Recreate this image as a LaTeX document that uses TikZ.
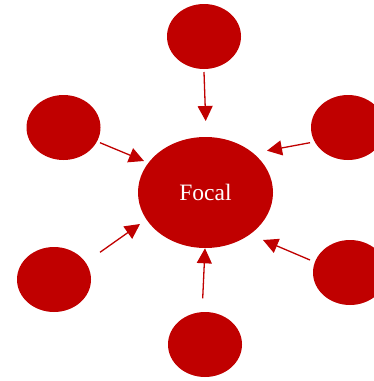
\documentclass[tikz,border=0pt]{standalone}
\usepackage{fontspec}
\setmainfont{Liberation Serif}
\usetikzlibrary{shapes.geometric,arrows.meta}
\definecolor{focred}{HTML}{C00000}
\tikzset{
  bubble/.style={ellipse, fill=focred, draw=none, inner sep=0pt, minimum width=74pt, minimum height=65pt},
  link/.style={draw=focred, line width=1.3pt, -{Triangle[length=15pt,width=15pt]}}
}
\begin{document}
\begin{tikzpicture}[x=1pt,y=-1pt]
\useasboundingbox (0,0) rectangle (374,381);
\node[bubble, minimum width=135pt, minimum height=111pt, text=white, font=\fontsize{23.5}{25}\selectfont] (focal) at (205.5,192.5) {Focal};
\node[bubble] (top) at (204,36.5) {};
\node[bubble] (lu) at (63.5,127.5) {};
\node[bubble] (ru) at (348,127.5) {};
\node[bubble] (ll) at (54,279.5) {};
\node[bubble] (rl) at (350,272.5) {};
\node[bubble] (bot) at (205,344.5) {};
\coordinate (topS) at (204,72);
\coordinate (topE) at (205.7,121);
\coordinate (luS) at (100,142.7);
\coordinate (luE) at (144,161);
\coordinate (ruS) at (310,142.7);
\coordinate (ruE) at (267,150.7);
\coordinate (llS) at (100,252.3);
\coordinate (llE) at (140,224);
\coordinate (rlS) at (310,260);
\coordinate (rlE) at (263,240);
\coordinate (botS) at (202.7,298.3);
\coordinate (botE) at (205,248.3);
\draw[link] (topS) -- (topE);
\draw[link] (luS) -- (luE);
\draw[link] (ruS) -- (ruE);
\draw[link] (llS) -- (llE);
\draw[link] (rlS) -- (rlE);
\draw[link] (botS) -- (botE);
\end{tikzpicture}
\end{document}
